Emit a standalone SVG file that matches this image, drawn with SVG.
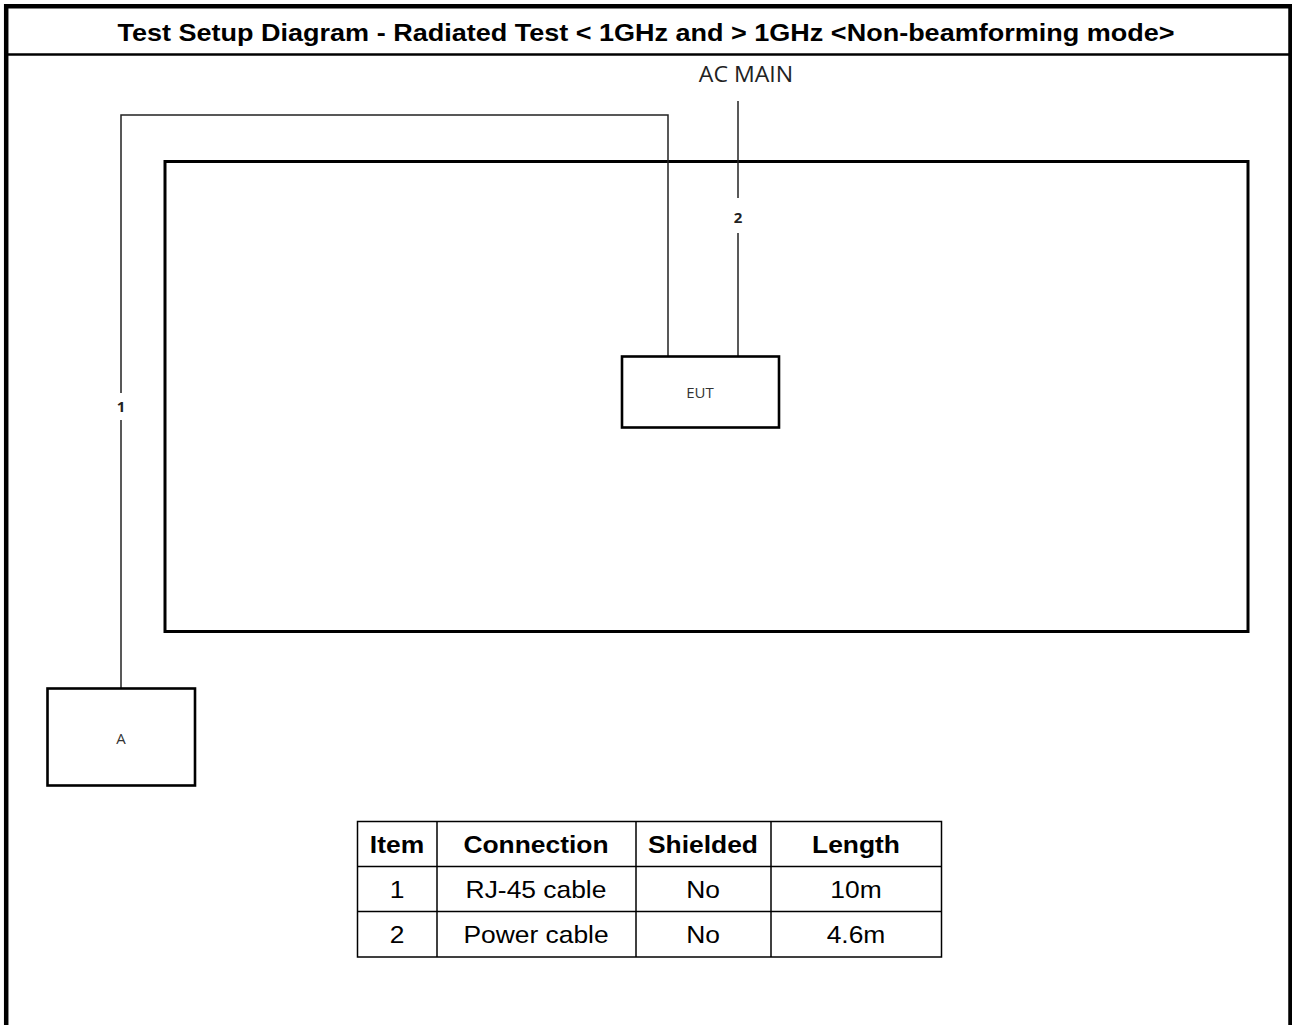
<svg xmlns="http://www.w3.org/2000/svg" width="1292" height="1025" viewBox="0 0 1292 1025">
<style>
.frame{fill:none;stroke:#000;stroke-width:4.5}
.box{fill:#fff;stroke:#000;stroke-width:2.6}
.cable{fill:none;stroke:#222;stroke-width:1.5}
.lbl{font-family:"Open Sans","Liberation Sans",sans-serif;font-size:15px;fill:#333;text-anchor:middle}
.num{font-family:"Open Sans","Liberation Sans",sans-serif;font-size:15px;font-weight:bold;fill:#222;text-anchor:middle}
.title{font-family:"Liberation Sans",Arial,sans-serif;font-size:24px;font-weight:bold;fill:#000;text-anchor:middle}
.th{font-family:"Liberation Sans",Arial,sans-serif;font-size:24px;font-weight:bold;fill:#000;text-anchor:middle}
.td{font-family:"Liberation Sans",Arial,sans-serif;font-size:24px;fill:#000;text-anchor:middle}
.grid{fill:none;stroke:#000;stroke-width:1.5}
</style>
<rect width="1292" height="1025" fill="#fff"/>
<g id="frame">
<path class="frame" d="M6.2,1025 V6.2 H1290.5 V1025"/>
<line x1="6" y1="54.5" x2="1290" y2="54.5" stroke="#000" stroke-width="2.5"/>
<text class="title" x="646" y="41" textLength="1057" lengthAdjust="spacingAndGlyphs">Test Setup Diagram - Radiated Test &lt; 1GHz and &gt; 1GHz &lt;Non-beamforming mode&gt;</text>
</g>
<g id="room">
<rect x="165" y="161.5" width="1083" height="470" fill="none" stroke="#000" stroke-width="3"/>
</g>
<g id="connectors">
<path class="cable" d="M668,356 V115 H121 V393"/>
<path class="cable" d="M121,420 V688"/>
<text class="num" x="121" y="412">1</text>
<path class="cable" d="M738,101 V198"/>
<path class="cable" d="M738,233 V356"/>
<text class="num" x="738" y="223">2</text>
</g>
<g id="ac-main">
<text x="0" y="82" transform="translate(746,0) scale(1.1,1)" font-family="Open Sans, Liberation Sans, sans-serif" font-size="21" fill="#222" text-anchor="middle">AC MAIN</text>
</g>
<g id="eut">
<rect class="box" x="622" y="356.5" width="157" height="71"/>
<text class="lbl" x="700" y="398">EUT</text>
</g>
<g id="a">
<rect class="box" x="47.5" y="688.5" width="147.5" height="97"/>
<text class="lbl" x="121" y="744">A</text>
</g>
<g id="table">
<rect class="grid" x="357.5" y="821.5" width="584" height="135.5"/>
<line class="grid" x1="357.5" y1="866.5" x2="941.5" y2="866.5"/>
<line class="grid" x1="357.5" y1="911.5" x2="941.5" y2="911.5"/>
<line class="grid" x1="437" y1="821.5" x2="437" y2="957"/>
<line class="grid" x1="636" y1="821.5" x2="636" y2="957"/>
<line class="grid" x1="771" y1="821.5" x2="771" y2="957"/>
<g transform="translate(397,0) scale(1.1,1)">
<text class="th" x="0" y="853">Item</text>
<text class="td" x="0" y="898">1</text>
<text class="td" x="0" y="943">2</text>
</g>
<g transform="translate(536,0) scale(1.1,1)">
<text class="th" x="0" y="853">Connection</text>
<text class="td" x="0" y="898">RJ-45 cable</text>
<text class="td" x="0" y="943">Power cable</text>
</g>
<g transform="translate(703,0) scale(1.1,1)">
<text class="th" x="0" y="853">Shielded</text>
<text class="td" x="0" y="898">No</text>
<text class="td" x="0" y="943">No</text>
</g>
<g transform="translate(856,0) scale(1.1,1)">
<text class="th" x="0" y="853">Length</text>
<text class="td" x="0" y="898">10m</text>
<text class="td" x="0" y="943">4.6m</text>
</g>
</g>
</svg>
